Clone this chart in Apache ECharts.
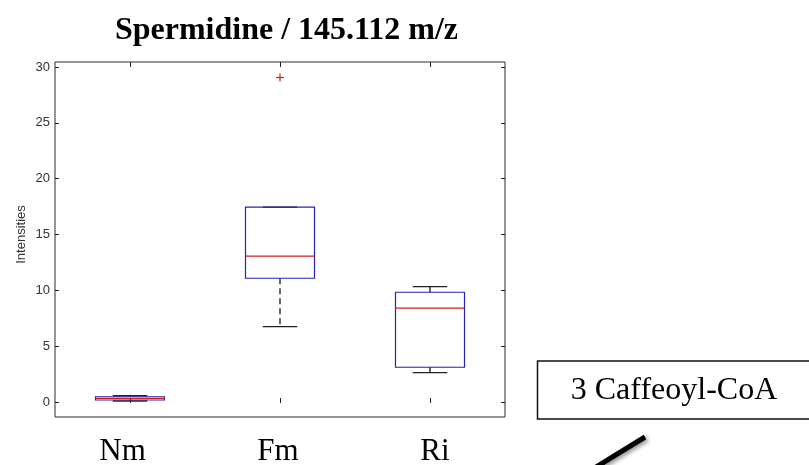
<!DOCTYPE html>
<html>
<head>
<meta charset="utf-8">
<script src="https://cdn.jsdelivr.net/npm/echarts@6/dist/echarts.min.js"></script>
<style>
html,body{margin:0;padding:0;background:#fff;}
#chart{width:809px;height:465px;}
</style>
</head>
<body>
<div id="chart"></div>
<script>
// ---- data ----
var categories = ['Nm', 'Fm', 'Ri'];
var lowerWhisker = [0.09, 6.75, 2.63];
var q1Values = [0.18, 11.08, 3.11];
var medianValues = [0.33, 13.06, 8.40];
var q3Values = [0.47, 17.45, 9.83];
var upperWhisker = [0.56, 17.45, 10.33];
var outlierCategories = ['Fm'];
var outlierValues = [29.06];
var yTickMin = 0, yTickMax = 30, yTickStep = 5;
var titleText = 'Spermidine / 145.112 m/z';
var yAxisTitle = 'Intensities';
var annotationText = '3 Caffeoyl-CoA';

var boxData = categories.map(function (c, i) {
  return [i, lowerWhisker[i], q1Values[i], medianValues[i], q3Values[i], upperWhisker[i]];
});
var outlierData = outlierCategories.map(function (c, i) {
  return [categories.indexOf(c), outlierValues[i]];
});

var BLUE = '#2424b4', RED = '#d41c1c';

function renderBox(params, api) {
  var x = api.value(0);
  var band = api.size([1, 0])[0];
  var bw = band * 0.46;
  var cw = bw * 0.5;
  var pLow = api.coord([x, api.value(1)]);
  var pQ1 = api.coord([x, api.value(2)]);
  var pMed = api.coord([x, api.value(3)]);
  var pQ3 = api.coord([x, api.value(4)]);
  var pHigh = api.coord([x, api.value(5)]);
  var cx = pQ1[0];
  var kids = [];
  kids.push({type: 'line', shape: {x1: cx, y1: pQ1[1], x2: cx, y2: pLow[1]},
    style: {stroke: '#000', lineWidth: 1.2, lineDash: [6, 4]}});
  kids.push({type: 'line', shape: {x1: cx, y1: pQ3[1], x2: cx, y2: pHigh[1]},
    style: {stroke: '#000', lineWidth: 1.2, lineDash: [6, 4]}});
  kids.push({type: 'line', shape: {x1: cx - cw / 2, y1: pLow[1], x2: cx + cw / 2, y2: pLow[1]},
    style: {stroke: '#222', lineWidth: 1.3}});
  kids.push({type: 'line', shape: {x1: cx - cw / 2, y1: pHigh[1], x2: cx + cw / 2, y2: pHigh[1]},
    style: {stroke: '#222', lineWidth: 1.3}});
  kids.push({type: 'rect', shape: {x: cx - bw / 2, y: pQ3[1], width: bw, height: pQ1[1] - pQ3[1]},
    style: {stroke: BLUE, lineWidth: 1.2, fill: 'rgba(0,0,0,0)'}});
  kids.push({type: 'line', shape: {x1: cx - bw / 2, y1: pMed[1], x2: cx + bw / 2, y2: pMed[1]},
    style: {stroke: RED, lineWidth: 1.2}});
  return {type: 'group', children: kids};
}

function renderOutlier(params, api) {
  var p = api.coord([api.value(0), api.value(1)]);
  var h = 4;
  return {type: 'group', children: [
    {type: 'line', shape: {x1: p[0] - h, y1: p[1], x2: p[0] + h, y2: p[1]}, style: {stroke: RED, lineWidth: 1.2}},
    {type: 'line', shape: {x1: p[0], y1: p[1] - h, x2: p[0], y2: p[1] + h}, style: {stroke: RED, lineWidth: 1.2}}
  ]};
}

var labelFont = {color: '#000', fontFamily: 'Liberation Serif', fontSize: 31};
var chart = echarts.init(document.getElementById('chart'), null, {renderer: 'canvas'});
var option = {
  backgroundColor: '#fff',
  animation: false,
  grid: [
    {left: 55, right: 304, top: 62, bottom: 48, show: true, borderColor: '#2a2a2a', borderWidth: 1,
     containLabel: false, outerBoundsMode: 'none'},
    {left: 55, right: 304, top: 67, bottom: 63, show: false, containLabel: false, outerBoundsMode: 'none'}
  ],
  xAxis: [
    {type: 'category', gridIndex: 0, data: categories, position: 'bottom',
     axisLine: {show: false},
     axisTick: {show: true, inside: true, alignWithLabel: true, length: 5, lineStyle: {color: '#222'}},
     axisLabel: {show: true, margin: 19, color: '#000', fontFamily: 'Liberation Serif', fontSize: 31,
       formatter: function (v, i) { return '{c' + i + '|' + v + '}'; },
       rich: {
         c0: Object.assign({padding: [0, 15, 0, 0]}, labelFont),
         c1: Object.assign({padding: [0, 4, 0, 0]}, labelFont),
         c2: Object.assign({padding: [0, 0, 0, 10]}, labelFont)
       }},
     splitLine: {show: false}},
    {type: 'category', gridIndex: 1, data: categories, show: false},
    {type: 'category', gridIndex: 0, data: categories, position: 'top',
     axisLine: {show: false},
     axisTick: {show: true, inside: true, alignWithLabel: true, length: 5, lineStyle: {color: '#222'}},
     axisLabel: {show: false}, splitLine: {show: false}}
  ],
  yAxis: [
    {type: 'value', gridIndex: 0, min: -1.25, max: 30.45, show: false},
    {type: 'value', gridIndex: 1, min: yTickMin, max: yTickMax, interval: yTickStep, position: 'left',
     name: yAxisTitle, nameLocation: 'middle', nameGap: 27, nameRotate: 90, nameMoveOverlap: false,
     nameTextStyle: {color: '#333', fontFamily: 'Liberation Sans', fontSize: 13},
     axisLine: {show: false},
     axisTick: {show: true, inside: true, length: 4, lineStyle: {color: '#222'}},
     axisLabel: {show: true, margin: 5, color: '#333', fontFamily: 'Liberation Sans', fontSize: 13},
     splitLine: {show: false}},
    {type: 'value', gridIndex: 1, min: yTickMin, max: yTickMax, interval: yTickStep, position: 'right',
     axisLine: {show: false},
     axisTick: {show: true, inside: true, length: 4, lineStyle: {color: '#222'}},
     axisLabel: {show: false}, splitLine: {show: false}}
  ],
  series: [
    {type: 'custom', xAxisIndex: 1, yAxisIndex: 1, clip: false, renderItem: renderBox,
     encode: {x: 0, y: [1, 2, 3, 4, 5]}, data: boxData, z: 5},
    {type: 'custom', xAxisIndex: 1, yAxisIndex: 1, clip: false, renderItem: renderOutlier,
     encode: {x: 0, y: 1}, data: outlierData, z: 6}
  ],
  graphic: [
    {type: 'text', x: 286.5, y: 30.5,
     style: {text: titleText, fill: '#000', font: 'bold 32px "Liberation Serif"', textAlign: 'center', textVerticalAlign: 'middle'}},
    {type: 'rect', shape: {x: 537.5, y: 361, width: 300, height: 58},
     style: {fill: '#fff', stroke: '#111', lineWidth: 1.5}},
    {type: 'text', x: 674, y: 391,
     style: {text: annotationText, fill: '#000', font: '32px "Liberation Serif"', textAlign: 'center', textVerticalAlign: 'middle'}},
    {type: 'line', shape: {x1: 645, y1: 437, x2: 588, y2: 472},
     style: {stroke: '#000', lineWidth: 5, lineCap: 'butt',
             shadowBlur: 4, shadowColor: 'rgba(0,0,0,0.45)', shadowOffsetX: 2, shadowOffsetY: 2}}
  ]
};
chart.setOption(option);
</script>
</body>
</html>
